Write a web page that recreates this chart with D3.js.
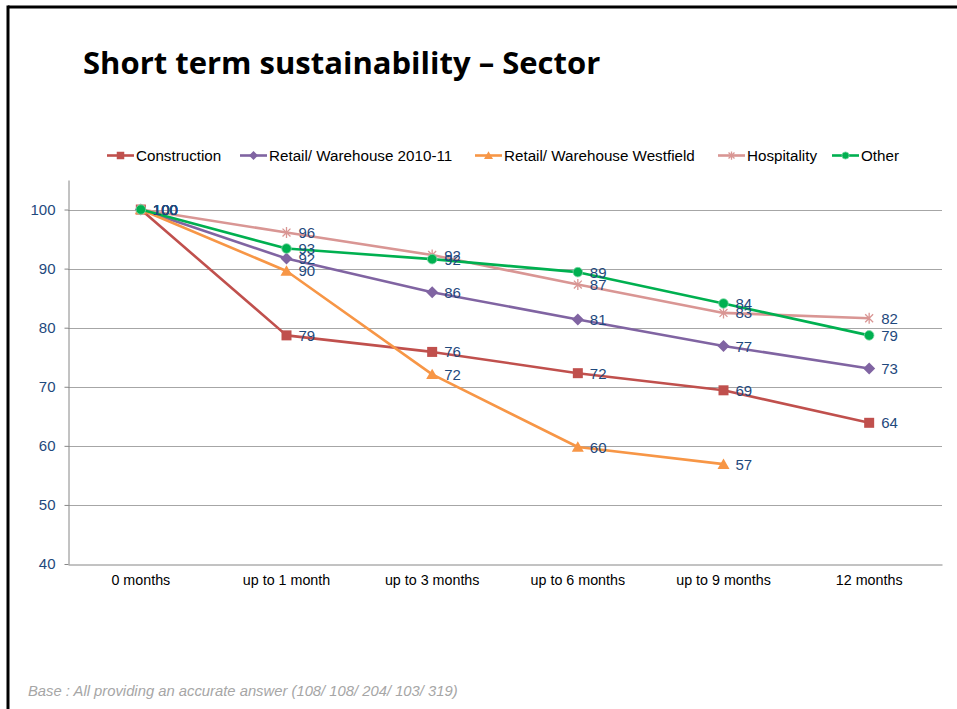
<!DOCTYPE html>
<html>
<head>
<meta charset="utf-8">
<script src="https://cdn.jsdelivr.net/npm/d3@7"></script>
<style>
  html, body { margin: 0; padding: 0; background: #fff; }
  svg { display: block; }
</style>
</head>
<body>
<svg id="chart" width="957" height="709"></svg>
<script>
// Time horizons on the x axis
const categories = ["0 months", "up to 1 month", "up to 3 months", "up to 6 months", "up to 9 months", "12 months"];

// Share still sustainable (%) by sector; null = no reading
const construction = [100, 78.7, 75.9, 72.3, 69.4, 63.9];
const retail201011 = [100, 91.7, 86.0, 81.4, 76.9, 73.1];
const retailWestfield = [100, 89.6, 72.1, 59.8, 56.9, null];
const hospitality = [100, 96.1, 92.3, 87.3, 82.5, 81.6];
const other = [100, 93.4, 91.6, 89.4, 84.1, 78.7];

const seriesNames = ["Construction", "Retail/ Warehouse 2010-11", "Retail/ Warehouse Westfield", "Hospitality", "Other"];
const yTicks = [40, 50, 60, 70, 80, 90, 100];

const seriesValues = [construction, retail201011, retailWestfield, hospitality, other];
const styles = [
  { color: "#C0504D", marker: "square" },
  { color: "#8064A2", marker: "diamond" },
  { color: "#F79646", marker: "triangle" },
  { color: "#D99694", marker: "asterisk" },
  { color: "#00B050", marker: "circle" }
];
const series = seriesNames.map((name, i) => ({ name, values: seriesValues[i], ...styles[i] }));

const FONT = "'Liberation Sans', Arial, sans-serif";
const svg = d3.select("#chart");

// Slide frame (left and top rules)
svg.append("line").attr("x1", 8).attr("x2", 957).attr("y1", 7).attr("y2", 7)
  .attr("stroke", "#000").attr("stroke-width", 3);
svg.append("line").attr("x1", 8).attr("x2", 8).attr("y1", 5.5).attr("y2", 709)
  .attr("stroke", "#000").attr("stroke-width", 3);

// Title
svg.append("text")
  .attr("x", 83).attr("y", 74)
  .attr("font-family", "'Open Sans', 'Liberation Sans', sans-serif")
  .attr("font-weight", "bold").attr("font-size", 31)
  .attr("fill", "#000")
  .text("Short term sustainability \u2013 Sector");

// Plot geometry
const plot = { left: 68, right: 942, top: 180, bottom: 564 };
const x = d3.scaleBand().domain(categories).range([plot.left, plot.right]);
const xc = c => x(c) + x.bandwidth() / 2;
const y = d3.scaleLinear().domain([40, 105]).range([plot.bottom, plot.top]);

// Horizontal gridlines
svg.append("g").selectAll("line").data(yTicks.filter(t => t > 40)).join("line")
  .attr("x1", plot.left).attr("x2", plot.right)
  .attr("y1", d => Math.round(y(d)) + 0.5).attr("y2", d => Math.round(y(d)) + 0.5)
  .attr("stroke", "#A6A6A6").attr("stroke-width", 1);

// Y axis
const yAxis = svg.append("g")
  .attr("transform", `translate(${plot.left + 0.5},0)`)
  .call(d3.axisLeft(y).tickValues(yTicks).tickSize(4).tickSizeOuter(0).tickPadding(9));
yAxis.select(".domain").attr("stroke", "#868686");
yAxis.selectAll(".tick line").attr("stroke", "#868686");
yAxis.selectAll(".tick text")
  .attr("font-family", FONT)
  .attr("font-size", 15).attr("fill", "#1F497D");

// X axis
const xAxis = svg.append("g")
  .attr("transform", `translate(0,${Math.round(y(40)) + 0.5})`)
  .call(d3.axisBottom(x).tickSize(0).tickSizeOuter(0).tickPadding(10));
xAxis.select(".domain").attr("stroke", "#868686");
xAxis.selectAll(".tick text")
  .attr("font-family", FONT)
  .attr("font-size", 14.3).attr("fill", "#000");

// Marker shapes
function drawMarker(g, kind, color, cx, cy, s) {
  if (kind === "square") {
    g.append("rect").attr("x", cx - s / 2).attr("y", cy - s / 2).attr("width", s).attr("height", s)
      .attr("fill", color);
  } else if (kind === "diamond") {
    const r = s * 0.6;
    g.append("path").attr("d", `M${cx},${cy - r}L${cx + r},${cy}L${cx},${cy + r}L${cx - r},${cy}Z`)
      .attr("fill", color);
  } else if (kind === "triangle") {
    const h = s * 0.95;
    g.append("path").attr("d", `M${cx},${cy - h * 0.6}L${cx + s * 0.6},${cy + h * 0.5}L${cx - s * 0.6},${cy + h * 0.5}Z`)
      .attr("fill", color);
  } else if (kind === "asterisk") {
    const r = s * 0.55;
    const d = r * 0.72;
    g.append("path")
      .attr("d", `M${cx - d},${cy - d}L${cx + d},${cy + d}M${cx - d},${cy + d}L${cx + d},${cy - d}M${cx},${cy - r}L${cx},${cy + r}`)
      .attr("stroke", color).attr("stroke-width", 1.3).attr("fill", "none");
  } else if (kind === "circle") {
    g.append("circle").attr("cx", cx).attr("cy", cy).attr("r", s * 0.48)
      .attr("fill", color).attr("stroke", "#7FD8A7").attr("stroke-width", 0.8);
  }
}

const line = d3.line()
  .defined(d => d.v !== null)
  .x(d => xc(d.c)).y(d => y(d.v));

// Lines and markers
series.forEach(s => {
  const pts = categories.map((c, i) => ({ c, v: s.values[i] }));
  const g = svg.append("g");
  g.append("path").datum(pts).attr("d", line)
    .attr("fill", "none").attr("stroke", s.color).attr("stroke-width", 2.6)
    .attr("stroke-linejoin", "round");
  pts.filter(p => p.v !== null).forEach(p => drawMarker(g, s.marker, s.color, xc(p.c), y(p.v), 10));
});

// Value labels
series.forEach(s => {
  svg.append("g").selectAll("text")
    .data(categories.map((c, i) => ({ c, v: s.values[i] })).filter(p => p.v !== null))
    .join("text")
    .attr("x", p => xc(p.c) + 12).attr("y", p => y(p.v) + 5.5)
    .attr("font-family", FONT)
    .attr("font-size", 15).attr("fill", "#1F497D")
    .text(p => d3.format(".0f")(p.v));
});

// Legend
const legendX = [107, 240, 475, 718, 832];
const legend = svg.append("g");
series.forEach((s, i) => {
  const lx = legendX[i], ly = 155.5;
  legend.append("line").attr("x1", lx).attr("x2", lx + 27).attr("y1", ly).attr("y2", ly)
    .attr("stroke", s.color).attr("stroke-width", 2.6);
  drawMarker(legend, s.marker, s.color, lx + 13.5, ly, 7.5);
  legend.append("text").attr("x", lx + 29).attr("y", ly + 5.5)
    .attr("font-family", FONT)
    .attr("font-size", 15.2).attr("fill", "#000")
    .text(s.name);
});

// Footnote
svg.append("text")
  .attr("x", 28).attr("y", 696)
  .attr("font-family", FONT)
  .attr("font-style", "italic").attr("font-size", 14.8)
  .attr("fill", "#A6A6A6")
  .text("Base : All providing an accurate answer (108/ 108/ 204/ 103/ 319)");
</script>
</body>
</html>
